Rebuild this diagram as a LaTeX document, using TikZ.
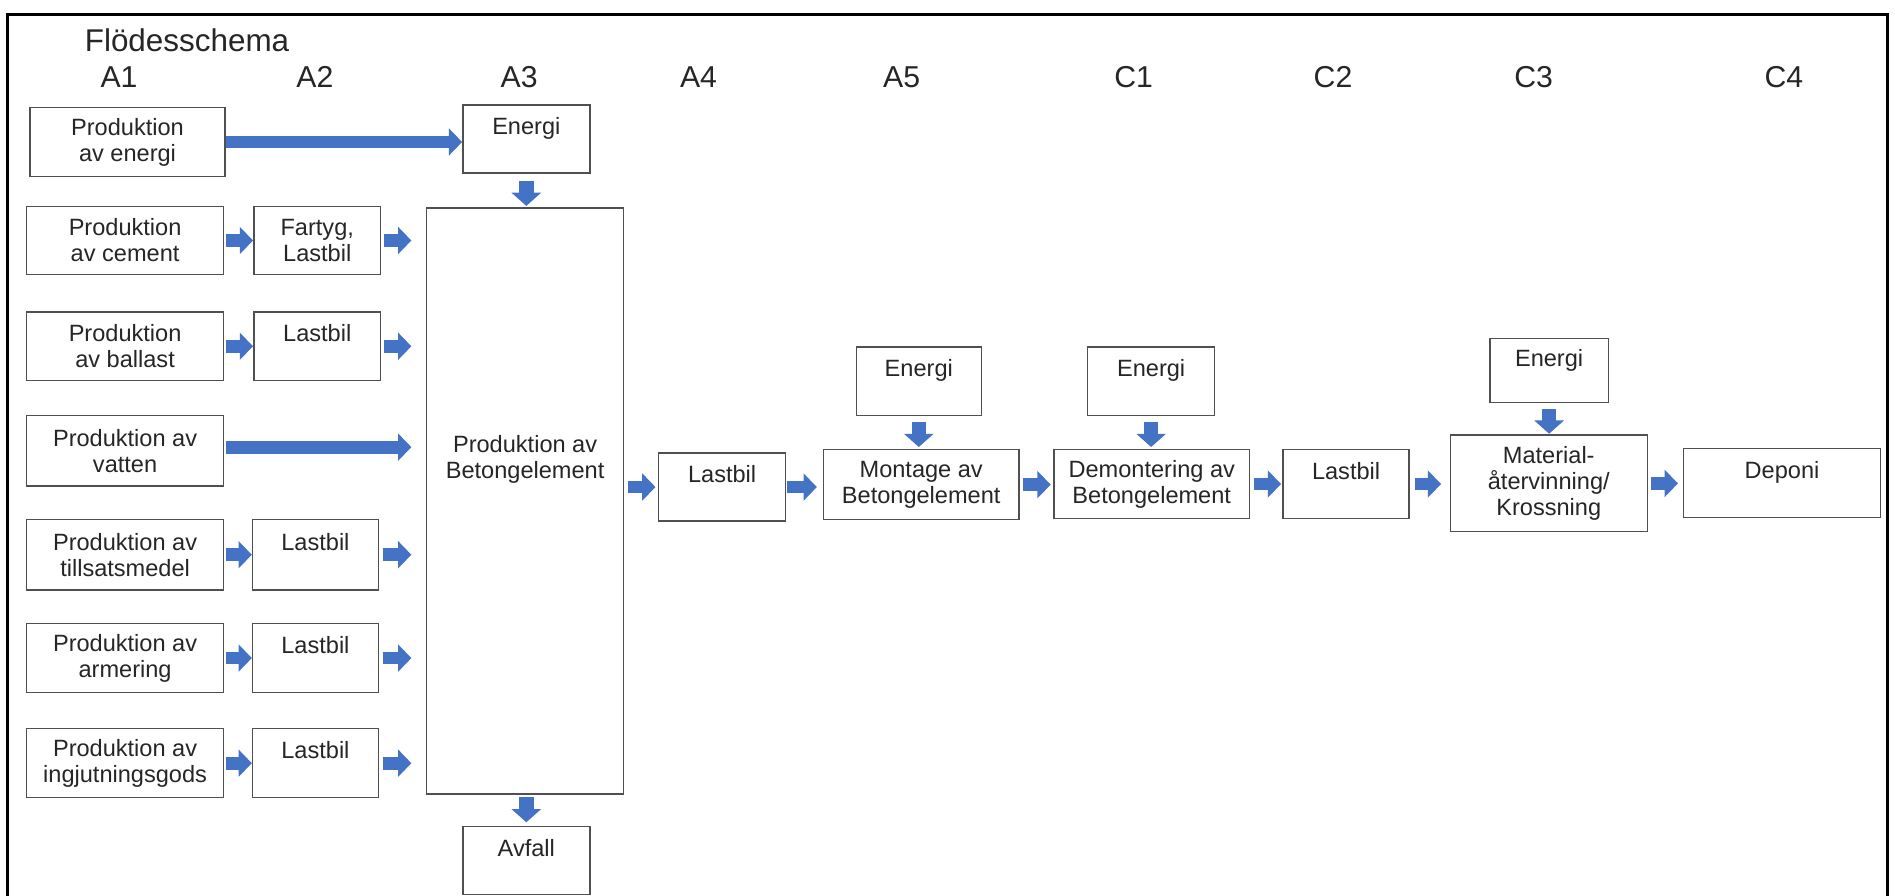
\documentclass[tikz,border=0pt]{standalone}
\usepackage{fontspec}
\setmainfont{Liberation Sans}
\usetikzlibrary{arrows.meta}
\definecolor{arrowblue}{HTML}{4472C4}
\definecolor{txt}{HTML}{262626}
\definecolor{edge}{HTML}{505050}
\begin{document}
\begin{tikzpicture}[x=1pt,y=-1pt,
  boxst/.style={draw=edge, line width=1.2pt, inner sep=0pt, align=center, text=txt,
    font=\fontsize{19.5}{21.5}\selectfont},
  arr/.style={draw=arrowblue, line width=10.5pt, -{Triangle[length=11pt,width=22pt]}},
  varr/.style={draw=arrowblue, line width=12pt, -{Triangle[length=11pt,width=24pt]}},
  hd/.style={text=txt, font=\fontsize{25}{30}\selectfont, anchor=base, inner sep=0pt}]
\useasboundingbox (0,0) rectangle (1568,741);
\clip (0,0) rectangle (1568,741);
\fill[white] (0,0) rectangle (1568,741);

% frame
\draw[line width=2.5pt, black] (6.2,760) -- (6.2,12.4) -- (1562,12.4) -- (1562,760);

% title and phase headers
\node[hd, anchor=base west, font=\fontsize{26}{30}\selectfont] (title) at (70,43) {Flödesschema};
\node[hd] (hA1) at (98.5,72) {A1};
\node[hd] (hA2) at (260.5,72) {A2};
\node[hd] (hA3) at (429.5,72) {A3};
\node[hd] (hA4) at (578,72) {A4};
\node[hd] (hA5) at (746,72) {A5};
\node[hd] (hC1) at (938,72) {C1};
\node[hd] (hC2) at (1103,72) {C2};
\node[hd] (hC3) at (1269,72) {C3};
\node[hd] (hC4) at (1476,72) {C4};

% A1 column
\node[boxst, minimum width=161pt, minimum height=57pt] (pe) at (105.5,117.5) {Produktion\\av energi};
\node[boxst, minimum width=163pt, minimum height=56pt] (cem) at (103.5,199) {Produktion\\av cement};
\node[boxst, minimum width=163pt, minimum height=57pt] (bal) at (103.5,286.5) {Produktion\\av ballast};
\node[boxst, minimum width=163pt, minimum height=58pt] (vat) at (103.5,373) {Produktion av\\vatten};
\node[boxst, minimum width=163pt, minimum height=58pt] (til) at (103.5,459) {Produktion av\\tillsatsmedel};
\node[boxst, minimum width=163pt, minimum height=57pt] (arm) at (103.5,544.5) {Produktion av\\armering};
\node[boxst, minimum width=163pt, minimum height=57pt] (ing) at (103.5,631.5) {Produktion av\\ingjutningsgods};

% A2 column
\node[boxst, minimum width=105pt, minimum height=56pt] (far) at (262.5,199) {Fartyg,\\Lastbil};
\node[boxst, minimum width=105pt, minimum height=57pt] (lb1) at (262.5,286.5) {Lastbil\\\mbox{}};
\node[boxst, minimum width=104pt, minimum height=58pt] (lb2) at (261,459) {Lastbil\\\mbox{}};
\node[boxst, minimum width=104pt, minimum height=57pt] (lb3) at (261,544.5) {Lastbil\\\mbox{}};
\node[boxst, minimum width=104pt, minimum height=57pt] (lb4) at (261,631.5) {Lastbil\\\mbox{}};

% A3 column
\node[boxst, minimum width=105pt, minimum height=56pt] (en3) at (435.5,115) {Energi\\\mbox{}};
\node[boxst, minimum width=163pt, minimum height=485pt] (big) at (434.5,414.5) {};
\node[boxst, draw=none, fill=none] (bigtxt) at (434.5,380) {Produktion av\\Betongelement};
\node[boxst, minimum width=105pt, minimum height=56pt] (avf) at (435.5,712) {Avfall\\\mbox{}};

% A4 .. C4
\node[boxst, minimum width=105pt, minimum height=56pt] (lb5) at (597.5,403) {Lastbil\\\mbox{}};
\node[boxst, minimum width=161.5pt, minimum height=58pt] (mon) at (762.25,401) {Montage av\\Betongelement};
\node[boxst, minimum width=103.5pt, minimum height=57pt] (en5) at (760.25,315.5) {Energi\\\mbox{}};
\node[boxst, minimum width=162pt, minimum height=57pt] (dem) at (953,400.5) {Demontering av\\Betongelement};
\node[boxst, minimum width=105pt, minimum height=57pt] (enc1) at (952.5,315.5) {Energi\\\mbox{}};
\node[boxst, minimum width=104.4pt, minimum height=57pt] (lb6) at (1113.8,400.5) {Lastbil\\\mbox{}};
\node[boxst, minimum width=163pt, minimum height=80pt] (mat) at (1281.5,400) {Material-\\återvinning/\\Krossning};
\node[boxst, minimum width=98pt, minimum height=53pt] (enc3) at (1281.8,306.75) {Energi\\\mbox{}};
\node[boxst, minimum width=163pt, minimum height=57pt] (dep) at (1474.5,399.5) {Deponi\\\mbox{}};

% horizontal arrows
\draw[arr] (pe.east) -- (pe.east -| en3.west);
\draw[arr, shorten <=1pt] (cem.east) -- (cem.east -| far.west);
\draw[arr, shorten <=1pt] (bal.east) -- (bal.east -| lb1.west);
\draw[arr, shorten <=1pt] (til.east) -- (til.east -| lb2.west);
\draw[arr, shorten <=1pt] (arm.east) -- (arm.east -| lb3.west);
\draw[arr, shorten <=1pt] (ing.east) -- (ing.east -| lb4.west);
\draw[arr, shorten <=2pt, shorten >=12pt] (far.east) -- (far.east -| big.west);
\draw[arr, shorten <=2pt, shorten >=12pt] (lb1.east) -- (lb1.east -| big.west);
\draw[arr, shorten <=3pt, shorten >=12pt] (lb2.east) -- (lb2.east -| big.west);
\draw[arr, shorten <=3pt, shorten >=12pt] (lb3.east) -- (lb3.east -| big.west);
\draw[arr, shorten <=3pt, shorten >=12pt] (lb4.east) -- (lb4.east -| big.west);
\draw[arr, shorten <=1pt, shorten >=12pt] ([yshift=3pt]vat.east) -- ([yshift=3pt]vat.east -| big.west);
\draw[arr, shorten <=3pt, shorten >=2pt] (lb5.west -| big.east) -- (lb5.west);
\draw[arr, shorten <=1pt, shorten >=5pt] (lb5.east) -- (lb5.east -| mon.west);
\draw[arr, shorten <=3pt, shorten >=2pt] (mon.east) -- (mon.east -| dem.west);
\draw[arr, shorten <=3pt, shorten >=1pt] (dem.east) -- (dem.east -| lb6.west);
\draw[arr, shorten <=4.5pt, shorten >=7pt] (lb6.east) -- (lb6.east -| mat.west);
\draw[arr, shorten <=2.5pt, shorten >=4pt] (mat.east) -- (mat.east -| dep.west);

% vertical arrows
\draw[varr, shorten <=6pt, shorten >=1pt] (en3.south) -- (en3.south |- big.north);
\draw[varr, shorten <=2pt, shorten >=3pt] (avf.north |- big.south) -- (avf.north);
\draw[varr, shorten <=4.5pt, shorten >=1.5pt] (en5.south) -- (en5.south |- mon.north);
\draw[varr, shorten <=4.5pt, shorten >=1.5pt] (enc1.south) -- (enc1.south |- dem.north);
\draw[varr, shorten <=4.5pt, shorten >=0.5pt] (enc3.south) -- (enc3.south |- mat.north);
\end{tikzpicture}
\end{document}
